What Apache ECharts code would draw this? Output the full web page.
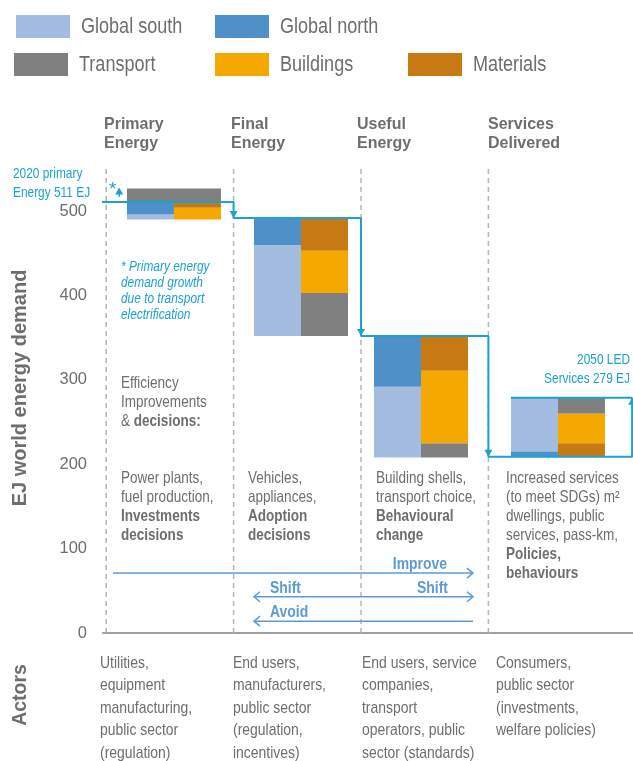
<!DOCTYPE html>
<html>
<head>
<meta charset="utf-8">
<script src="https://cdn.jsdelivr.net/npm/echarts@6/dist/echarts.min.js"></script>
<style>
  html, body { margin: 0; padding: 0; background: #fff; }
  #chart { width: 633px; height: 761px; }
</style>
</head>
<body>
<div id="chart"></div>
<script>
// ---- data -------------------------------------------------------------
// Stages of the energy chain (column headers)
const stages = ['Primary Energy', 'Final Energy', 'Useful Energy', 'Services Delivered'];
// Bottom of each stacked bar, EJ
const barBase = [490, 352, 208, 209];
// Regional split (left half of each bar), EJ
const globalSouth = [6, 108, 84, 64];
const globalNorth = [15, 32, 60, 6];
// Sectoral split (right half of each bar), EJ
const transport = [16, 51, 17, 19];
const buildings = [14, 50, 86, 35];
const materials = [7, 39, 41, 16];
// Stacking order, bottom to top, for each stage
const regionOrder = [['south', 'north'], ['south', 'north'], ['south', 'north'], ['north', 'south']];
const sectorOrder = [['buildings', 'materials'], ['transport', 'buildings', 'materials'],
                     ['transport', 'buildings', 'materials'], ['materials', 'buildings', 'transport']];
// Segments drawn across the full bar width on top (primary-energy growth from transport electrification)
const spanning = [['transport'], [], [], []];
// Value-axis ticks
const yTicks = [0, 100, 200, 300, 400, 500];
// Text blocks ('^' marks a bold line)
const levers = [
  ['Power plants,', 'fuel production,', '^Investments', '^decisions'],
  ['Vehicles,', 'appliances,', '^Adoption', '^decisions'],
  ['Building shells,', 'transport choice,', '^Behavioural', '^change'],
  ['Increased services', '(to meet SDGs) m\u00b2', 'dwellings, public', 'services, pass-km,', '^Policies,', '^behaviours']
];
const actors = [
  ['Utilities,', 'equipment', 'manufacturing,', 'public sector', '(regulation)'],
  ['End users,', 'manufacturers,', 'public sector', '(regulation,', 'incentives)'],
  ['End users, service', 'companies,', 'transport', 'operators, public', 'sector (standards)'],
  ['Consumers,', 'public sector', '(investments,', 'welfare policies)']
];

// ---- styling / layout ---------------------------------------------------
const C = {
  south: '#a3bce0', north: '#4f90c8', transport: '#808080',
  buildings: '#f5a800', materials: '#c77a13',
  cyan: '#1ba3cf', blue: '#5b9bd5', text: '#6d6e70', grid: '#b4b4b4', axis: '#a0a0a0'
};
const SANS = '"Liberation Sans", Arial, sans-serif';
const CONDENSE = 0.82;                           // horizontal squeeze for the condensed text face
const BAR_LEFT = [0.163, 1.160, 2.102, 3.177];   // left edge of each bar, in stage units
const BAR_W = 0.738;                             // bar width, in stage units
const RIGHT_EDGE = 4.128;                        // x of the closing bracket

const data = { south: globalSouth, north: globalNorth, transport, buildings, materials };
const names = { south: 'Global south', north: 'Global north', transport: 'Transport',
                buildings: 'Buildings', materials: 'Materials' };

// Stack the segments
const segs = { south: [], north: [], transport: [], buildings: [], materials: [] };
const regionTop = [], sectorTop = [];
stages.forEach((_, s) => {
  let y = barBase[s];
  regionOrder[s].forEach(k => { segs[k].push([s, y, y + data[k][s], 0]); y += data[k][s]; });
  regionTop.push(y);
  let z = barBase[s];
  sectorOrder[s].forEach(k => { segs[k].push([s, z, z + data[k][s], 1]); z += data[k][s]; });
  sectorTop.push(z);
  let t = Math.max(y, z);
  spanning[s].forEach(k => { segs[k].push([s, t, t + data[k][s], 2]); t += data[k][s]; });
});

const primary2020 = regionTop[0];
const services2050 = regionTop[3];

function barItem(params, api) {
  const s = api.value(0), lo = api.value(1), hi = api.value(2), col = api.value(3);
  const left = BAR_LEFT[s] + (col === 1 ? BAR_W / 2 : 0);
  const w = col === 2 ? BAR_W : BAR_W / 2;
  const a = api.coord([left, hi]), b = api.coord([left + w, lo]);
  return { type: 'rect', shape: { x: a[0], y: a[1], width: b[0] - a[0], height: b[1] - a[1] },
           style: { fill: api.visual('color') } };
}

const barSeries = ['south', 'north', 'transport', 'buildings', 'materials'].map(k => ({
  type: 'custom', name: names[k], renderItem: barItem, data: segs[k],
  itemStyle: { color: C[k] }, encode: { x: 0, y: [1, 2] }, silent: true, z: 2
}));

// Cascade of energy levels through the chain
const cascade = [
  [-0.07, primary2020], [1, primary2020], [1, regionTop[1]], [2, regionTop[1]],
  [2, regionTop[2]], [3, regionTop[2]], [3, barBase[3]], [RIGHT_EDGE, barBase[3]],
  [RIGHT_EDGE, services2050]
];
const heads = [
  [1, regionTop[1], 1], [2, regionTop[2], 1], [3, barBase[3], 1], [RIGHT_EDGE, services2050, -1]
];

// Improve / Shift / Avoid arrows: [x from, x to, level, head at start, head at end]
const levArrows = [
  [0.054, 2.879, 71, 0, 1],
  [1.160, 2.879, 43, 1, 1],
  [1.160, 2.879, 14, 1, 0]
];

function txt(x, y, text, opt) {
  opt = opt || {};
  return {
    type: 'text', x: x, y: y, rotation: opt.rotation || 0, silent: true,
    scaleX: opt.scale == null ? CONDENSE : opt.scale,
    style: {
      text: text, x: 0, y: 0,
      fill: opt.color || C.text,
      font: (opt.italic ? 'italic ' : '') + (opt.bold ? 'bold ' : '') + (opt.size || 16.5) + 'px ' + SANS,
      align: opt.align || 'left', verticalAlign: 'middle'
    }
  };
}
function block(x, y0, step, lines, opt) {
  return lines.map((l, i) => {
    const bold = l[0] === '^';
    return txt(x, y0 + i * step, bold ? l.slice(1) : l, Object.assign({}, opt, { bold: bold || (opt && opt.bold) }));
  });
}

const graphics = [];
// Column headers
const headerX = [104, 231, 357, 488];
stages.forEach((st, i) => {
  st.split(' ').forEach((w, j) => graphics.push(txt(headerX[i], 124 + j * 19, w, { bold: true, size: 16.5, scale: 0.97 })));
});
// Axis titles
graphics.push(txt(20, 388, 'EJ world energy demand', { bold: true, size: 20, scale: 1, align: 'center', rotation: Math.PI / 2 }));
graphics.push(txt(20, 695, 'Actors', { bold: true, size: 20, scale: 0.97, align: 'center', rotation: Math.PI / 2 }));
// Legend labels
const legendPos = [
  ['Global south', 16, 15], ['Global north', 215, 15],
  ['Transport', 14, 53], ['Buildings', 215, 53], ['Materials', 408, 53]
];
legendPos.forEach(([n, l, t]) => graphics.push(txt(l + 65, t + 12, n, { size: 22 })));
// Annotations
graphics.push(...block(13, 174, 19, ['2020 primary', 'Energy ' + primary2020 + ' EJ'], { color: C.cyan, size: 14.5 }));
graphics.push(txt(109, 190, '*', { color: C.cyan, size: 19, scale: 1 }));
graphics.push(...block(121, 267, 16, ['* Primary energy', 'demand growth', 'due to transport', 'electrification'], { color: C.cyan, size: 14.5, italic: true }));
graphics.push(...block(121, 383, 19, ['Efficiency', 'Improvements'], {}));
graphics.push({
  type: 'text', x: 121, y: 421, silent: true, scaleX: CONDENSE,
  style: { text: '{n|& }{b|decisions:}', x: 0, y: 0, verticalAlign: 'middle',
    rich: { n: { fill: C.text, font: '16.5px ' + SANS }, b: { fill: C.text, font: 'bold 16.5px ' + SANS } } }
});
const leverX = [121, 248, 376, 506];
levers.forEach((ls, i) => graphics.push(...block(leverX[i], 478, 19, ls, {})));
graphics.push(...block(630, 360, 19, ['2050 LED', 'Services ' + services2050 + ' EJ'], { color: C.cyan, size: 14.5, align: 'right' }));
graphics.push(txt(447, 564, 'Improve', { color: C.blue, bold: true, size: 17, align: 'right' }));
graphics.push(txt(270, 588, 'Shift', { color: C.blue, bold: true, size: 17 }));
graphics.push(txt(448, 588, 'Shift', { color: C.blue, bold: true, size: 17, align: 'right' }));
graphics.push(txt(270, 612, 'Avoid', { color: C.blue, bold: true, size: 17 }));
const actorX = [100, 233, 362, 496];
actors.forEach((ls, i) => graphics.push(...block(actorX[i], 663, 22.5, ls, { size: 17 })));

const chart = echarts.init(document.getElementById('chart'), null, { renderer: 'canvas' });
chart.setOption({
  animation: false,
  backgroundColor: '#fff',
  grid: { left: 103, right: 0, top: 169, bottom: 128 },
  legend: legendPos.map(([n, l, t]) => ({
    data: [n], left: l, top: t, icon: 'rect', itemWidth: 54, itemHeight: 23,
    selectedMode: false, padding: 0, formatter: () => '',
    textStyle: { fontSize: 1 }
  })),
  xAxis: {
    type: 'value', min: -0.025, max: 4.135,
    axisLine: { show: true, lineStyle: { color: C.axis, width: 2 } },
    axisTick: { show: false }, axisLabel: { show: false }, splitLine: { show: false }
  },
  yAxis: {
    type: 'value', min: 0, max: 550, interval: 100,
    axisLine: { show: false }, axisTick: { show: false }, splitLine: { show: false },
    axisLabel: {
      margin: 16, color: C.text, fontSize: 16.5, fontFamily: SANS,
      formatter: v => (yTicks.indexOf(v) >= 0 ? String(v) : '')
    }
  },
  series: [
    {
      type: 'custom', silent: true, z: 1, data: [[0], [1], [2], [3]], encode: { x: 0 },
      renderItem: (p, api) => {
        const a = api.coord([api.value(0), 0]), b = api.coord([api.value(0), 550]);
        return { type: 'line', shape: { x1: a[0], y1: a[1], x2: b[0], y2: b[1] },
                 style: { stroke: C.grid, lineWidth: 1.5, lineDash: [5, 4] } };
      }
    },
    ...barSeries,
    {
      type: 'line', data: cascade, symbol: 'none', clip: false, silent: true, z: 5,
      lineStyle: { color: C.cyan, width: 2 }
    },
    {
      type: 'line', data: [[BAR_LEFT[3], services2050], [RIGHT_EDGE, services2050]],
      symbol: 'none', clip: false, silent: true, z: 5, lineStyle: { color: C.cyan, width: 2 }
    },
    {
      // arrow heads on the cascade, plus the small growth arrow beside the asterisk
      type: 'custom', silent: true, z: 6, clip: false,
      data: heads.concat([[0.102, primary2020 + 17, -1]]), encode: { x: 0, y: 1 },
      renderItem: (p, api) => {
        const pt = api.coord([api.value(0), api.value(1)]), d = api.value(2);
        const children = [{ type: 'polygon',
          shape: { points: [[pt[0], pt[1]], [pt[0] - 4, pt[1] - 7 * d], [pt[0] + 4, pt[1] - 7 * d]] },
          style: { fill: C.cyan } }];
        if (p.dataIndex === heads.length) {
          const base = api.coord([api.value(0), primary2020 + 6]);
          children.push({ type: 'line', shape: { x1: pt[0], y1: pt[1] + 5, x2: base[0], y2: base[1] },
                          style: { stroke: C.cyan, lineWidth: 1.5 } });
        }
        return { type: 'group', children };
      }
    },
    {
      type: 'custom', silent: true, z: 6, clip: false, data: levArrows, encode: { x: [0, 1], y: 2 },
      renderItem: (p, api) => {
        const a = api.coord([api.value(0), api.value(2)]), b = api.coord([api.value(1), api.value(2)]);
        const st = { stroke: C.blue, lineWidth: 1.5, fill: null };
        const ch = [{ type: 'line', shape: { x1: a[0], y1: a[1], x2: b[0], y2: b[1] }, style: st }];
        if (api.value(3)) ch.push({ type: 'polyline', shape: { points: [[a[0] + 6, a[1] - 5], [a[0], a[1]], [a[0] + 6, a[1] + 5]] }, style: st });
        if (api.value(4)) ch.push({ type: 'polyline', shape: { points: [[b[0] - 6, b[1] - 5], [b[0], b[1]], [b[0] - 6, b[1] + 5]] }, style: st });
        return { type: 'group', children: ch };
      }
    }
  ],
  graphic: { elements: graphics }
});
</script>
</body>
</html>
